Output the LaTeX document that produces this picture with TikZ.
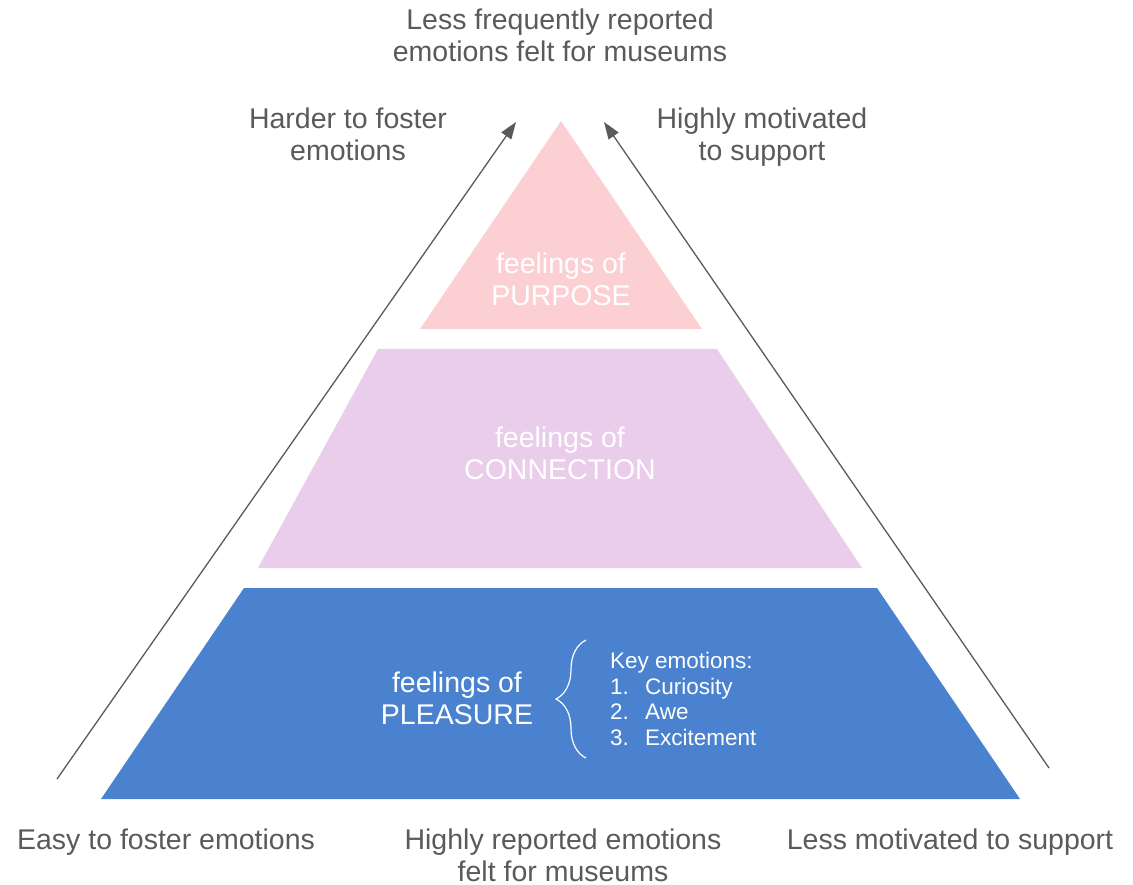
\documentclass[tikz,border=0pt]{standalone}
\usepackage{fontspec}
\setmainfont{Liberation Sans}
\usetikzlibrary{arrows.meta,decorations.pathreplacing}
\definecolor{labelgray}{HTML}{5A5A5A}
\definecolor{purposepink}{HTML}{FCD0D3}
\definecolor{connectmauve}{HTML}{EACCEB}
\definecolor{pleasureblue}{HTML}{4A82CF}

\begin{document}
\begin{tikzpicture}[x=1pt, y=-1pt,
		sidelabel/.style={text=labelgray, align=center, inner sep=0pt, anchor=base, font=\fontsize{28.5}{32}\selectfont},
		tierlabel/.style={text=white, align=center, inner sep=0pt, anchor=base, font=\fontsize{28.5}{32}\selectfont},
		listlabel/.style={text=white, inner sep=0pt, anchor=base west, font=\fontsize{22.5}{25.5}\selectfont},
		trend/.style={draw=labelgray, line width=1.3pt, -{Triangle[length=17pt, width=12pt]}}]
	\useasboundingbox (0, 0) rectangle (1133, 885);

	% the three tiers
	\fill[purposepink] 	(561, 121) -- (702, 329) -- (420, 329) -- cycle;
	\fill[connectmauve] (378, 349) -- (717, 349) -- (862, 568) -- (258, 568) -- cycle;
	\fill[pleasureblue] (244, 588) -- (877, 588) -- (1020, 799) -- (101, 799) -- cycle;

	% base of a two-line node = baseline of its last line
	\draw (561, 306) 	node[tierlabel] 	(purpose) 		{feelings of\\PURPOSE};
	\draw (560, 479) 	node[tierlabel] 	(connection) 	{feelings of\\CONNECTION};
	\draw (457, 724) 	node[tierlabel] 	(pleasure) 		{feelings of\\PLEASURE};

	% key emotions of the bottom tier
	\draw[white, line width=1.2pt, decorate, decoration={brace, amplitude=30pt}] (586, 758) -- (586, 640);
	\draw (610, 668) 	node[listlabel] 	(keyhead) 		{Key emotions:};
	\draw (610, 694) 	node[listlabel] 	(curiosity) 	{\makebox[35pt][l]{1.}Curiosity};
	\draw (610, 719) 	node[listlabel] 	(awe) 			{\makebox[35pt][l]{2.}Awe};
	\draw (610, 745) 	node[listlabel] 	(excitement) 	{\makebox[35pt][l]{3.}Excitement};

	% labels round the pyramid
	\draw (560, 62) 	node[sidelabel] 	(lessreported) 	{Less frequently reported\\emotions felt for museums};
	\draw (348, 161) 	node[sidelabel] 	(harder) 		{Harder to foster\\emotions};
	\draw (762, 161) 	node[sidelabel] 	(highmotiv) 	{Highly motivated\\to support};
	\draw (166, 849) 	node[sidelabel] 	(easy) 			{Easy to foster emotions};
	\draw (563, 881) 	node[sidelabel] 	(highreported) 	{Highly reported emotions\\felt for museums};
	\draw (950, 849) 	node[sidelabel] 	(lessmotiv) 	{Less motivated to support};

	% trend arrows
	\coordinate (leftfoot) 	at (57, 779);
	\coordinate (lefttip) 	at (516, 122);
	\coordinate (rightfoot) at (1049, 768);
	\coordinate (righttip) 	at (604, 122);
	\draw[trend] (leftfoot) -- (lefttip);
	\draw[trend] (rightfoot) -- (righttip);
\end{tikzpicture}
\end{document}
